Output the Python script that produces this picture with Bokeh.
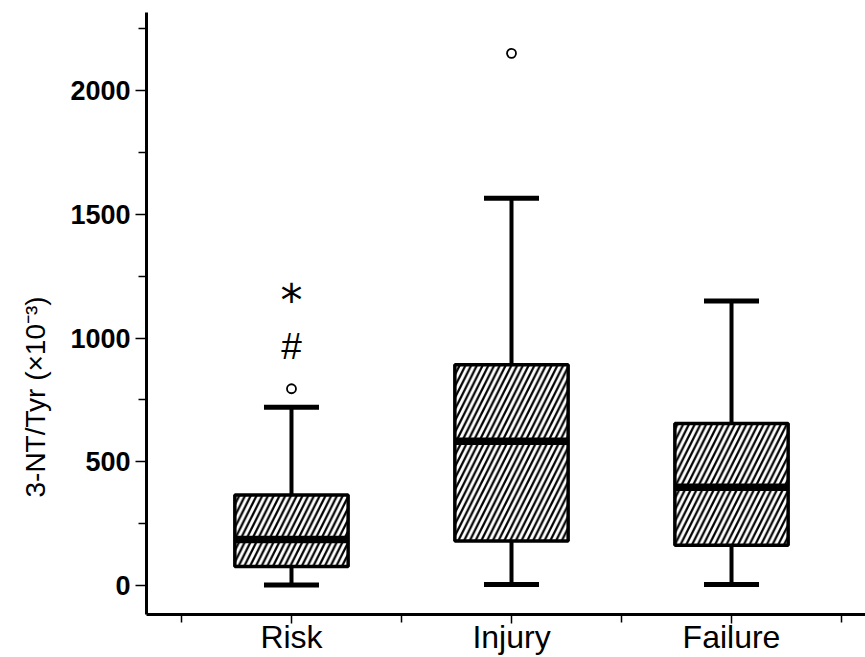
import math
from bokeh.plotting import figure
from bokeh.models import Range1d, FixedTicker, Title
from bokeh.core.properties import value
from bokeh.embed import file_html
from bokeh.resources import INLINE

# ---- data ----
categories = ["Risk", "Injury", "Failure"]
positions = [1, 2, 3]
lower_whisker = [2, 4, 4]
q1 = [77, 180, 163]
median = [186, 583, 397]
q3 = [366, 892, 655]
upper_whisker = [720, 1565, 1150]
outlier_x = [1, 2]
outlier_y = [795, 2150]
hash_x, hash_y = [1], [966]
star_x, star_y = [1], [1150]
y_ticks = [0, 500, 1000, 1500, 2000]
y_minor = [250, 750, 1250, 1750, 2250]
x_minor = [0.5, 1.5, 2.5, 3.5]

BOX_W = 0.515
CAP_W = 0.25
FONT = "Liberation Sans"

p = figure(width=865, height=657, output_backend="svg", toolbar_location=None,
           x_range=Range1d(0.341, 3.609), y_range=Range1d(-117, 2315),
           min_border_left=146, min_border_right=0, min_border_top=12, min_border_bottom=43)
p.outline_line_color = None
p.xgrid.grid_line_color = None
p.ygrid.grid_line_color = None
p.background_fill_color = "white"

# whiskers
p.segment(x0=positions, y0=q3, x1=positions, y1=upper_whisker, line_color="black", line_width=4)
p.segment(x0=positions, y0=q1, x1=positions, y1=lower_whisker, line_color="black", line_width=4)
cap_l = [x - CAP_W / 2 for x in positions]
cap_r = [x + CAP_W / 2 for x in positions]
p.segment(x0=cap_l, y0=upper_whisker, x1=cap_r, y1=upper_whisker, line_color="black", line_width=5)
p.segment(x0=cap_l, y0=lower_whisker, x1=cap_r, y1=lower_whisker, line_color="black", line_width=5)

# boxes
p.vbar(x=positions, width=BOX_W, bottom=q1, top=q3, fill_color="white", line_color="black",
       line_width=3.5, hatch_pattern="/", hatch_color="black", hatch_weight=2.2, hatch_scale=11.5)
box_l = [x - BOX_W / 2 for x in positions]
box_r = [x + BOX_W / 2 for x in positions]
p.segment(x0=box_l, y0=median, x1=box_r, y1=median, line_color="black", line_width=7.5)

# outliers
p.scatter(x=outlier_x, y=outlier_y, marker="circle", size=9, fill_color="white",
          line_color="black", line_width=1.8)

# significance marks
p.text(x=hash_x, y=hash_y, text=["#"], text_font=value(FONT), text_font_size="37px",
       text_align="center", text_baseline="middle", text_color="black")
p.text(x=star_x, y=star_y, text=["*"], text_font=value("DejaVu Sans"), text_font_size="44px",
       text_align="center", text_baseline="middle", text_color="black")

# axes
p.yaxis.ticker = FixedTicker(ticks=y_ticks, minor_ticks=y_minor)
p.xaxis.ticker = FixedTicker(ticks=positions, minor_ticks=x_minor)
p.xaxis.major_label_overrides = {pos: c for pos, c in zip(positions, categories)}
for ax in (p.xaxis[0], p.yaxis[0]):
    ax.axis_line_width = 3
    ax.axis_line_color = "black"
    ax.major_tick_line_color = "black"
    ax.minor_tick_line_color = "black"
    ax.major_tick_line_width = 1.5
    ax.minor_tick_line_width = 1.5
    ax.major_tick_in = 0
    ax.minor_tick_in = 0
    ax.major_label_text_color = "black"
    ax.major_label_text_font = FONT
    ax.axis_label_standoff = 0

p.yaxis.major_tick_out = 11
p.yaxis.minor_tick_out = 8
p.yaxis.major_label_text_font_size = "27px"
p.yaxis.major_label_text_font_style = "bold"
p.yaxis.major_label_standoff = 5

p.xaxis.major_tick_out = 9
p.xaxis.minor_tick_out = 8
p.xaxis.major_label_text_font_size = "32px"
p.xaxis.major_label_standoff = -5

# y-axis title, placed as a side title
ytitle = Title(text="3-NT/Tyr (×10⁻³)", align="left", offset=117, standoff=34,
               text_font=FONT, text_font_size="28px", text_font_style="normal", text_color="black")
p.add_layout(ytitle, "left")

open("out.html", "w").write(file_html(p, INLINE))
